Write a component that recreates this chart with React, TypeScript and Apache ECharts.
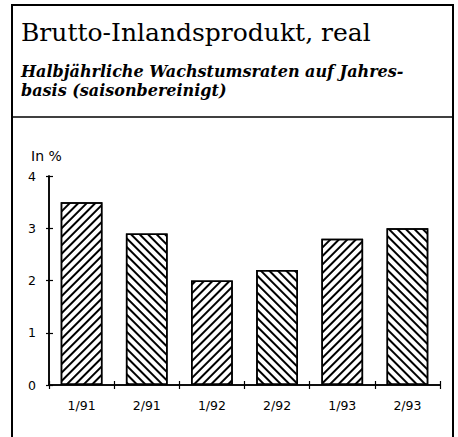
import React, { useEffect, useRef } from "react";
import * as echarts from "echarts";

const categories = ["1/91", "2/91", "1/92", "2/92", "1/93", "2/93"];
const values = [3.5, 2.9, 2.0, 2.2, 2.8, 3.0];
const yTicks = { min: 0, max: 4, interval: 1 };
const title = "Brutto-Inlandsprodukt, real";
const subtitleLines = ["Halbjährliche Wachstumsraten auf Jahres-", "basis (saisonbereinigt)"];
const unitLabel = "In %";

export default function App() {
  const ref = useRef<HTMLDivElement>(null);
  useEffect(() => {
    if (!ref.current) return;
    const chart = echarts.init(ref.current, null, { renderer: "svg" });
    const hatch = (i: number) => ({
      symbol: "rect",
      symbolSize: 1,
      dashArrayX: [1, 0],
      dashArrayY: [1.3, 3.2],
      rotation: i % 2 === 0 ? -Math.PI / 4 : Math.PI / 4,
      color: "#000",
      backgroundColor: "#fff",
    });
    const axisLine = { show: true, lineStyle: { color: "#000", width: 1.5 } };
    chart.setOption({
      animation: false,
      backgroundColor: "#fff",
      grid: { left: 49, right: 18, top: 176, bottom: 52 },
      xAxis: [
        {
          type: "category",
          data: categories,
          position: "bottom",
          axisLine,
          axisTick: { show: true, length: 4, lineStyle: { color: "#000", width: 1.2 } },
          axisLabel: { color: "#000", fontSize: 12.5, margin: 14, fontFamily: "DejaVu Sans" },
        },
        {
          type: "category",
          data: categories,
          position: "bottom",
          axisLine,
          axisTick: { show: true, inside: true, length: 4, lineStyle: { color: "#000", width: 1.2 } },
          axisLabel: { show: false },
        },
      ],
      yAxis: [
        {
          type: "value",
          ...yTicks,
          axisLine,
          splitLine: { show: false },
          axisTick: { show: true, length: 3, lineStyle: { color: "#000", width: 1.2 } },
          axisLabel: { color: "#000", fontSize: 12.5, margin: 13, fontFamily: "DejaVu Sans" },
        },
        {
          type: "value",
          ...yTicks,
          position: "left",
          axisLine,
          splitLine: { show: false },
          axisTick: { show: true, inside: true, length: 4, lineStyle: { color: "#000", width: 1.2 } },
          axisLabel: { show: false },
        },
      ],
      series: [
        {
          type: "bar",
          xAxisIndex: 0,
          yAxisIndex: 0,
          barWidth: "64%",
          data: values.map((v, i) => ({
            value: v,
            itemStyle: { color: "#fff", borderColor: "#000", borderWidth: 1.5, decal: hatch(i) },
          })),
        },
      ],
      graphic: [
        {
          type: "rect",
          shape: { x: 12, y: 5, width: 441, height: 440 },
          style: { fill: "none", stroke: "#000", lineWidth: 2 },
          silent: true,
        },
        {
          type: "line",
          shape: { x1: 12, y1: 117, x2: 453, y2: 117 },
          style: { stroke: "#000", lineWidth: 1.5 },
          silent: true,
        },
        {
          type: "text",
          x: 21,
          y: 32,
          style: { text: title, font: '25px "DejaVu Serif"', fill: "#000", verticalAlign: "middle" },
        },
        {
          type: "text",
          x: 21,
          y: 71,
          style: {
            text: subtitleLines[0],
            font: 'italic bold 16px "DejaVu Serif"',
            fill: "#000",
            verticalAlign: "middle",
          },
        },
        {
          type: "text",
          x: 21,
          y: 90,
          style: {
            text: subtitleLines[1],
            font: 'italic bold 16px "DejaVu Serif"',
            fill: "#000",
            verticalAlign: "middle",
          },
        },
        {
          type: "text",
          x: 31,
          y: 156,
          style: { text: unitLabel, font: '14px "DejaVu Sans"', fill: "#000", verticalAlign: "middle" },
        },
      ],
    });
    return () => chart.dispose();
  }, []);
  return (
    <div
      ref={ref}
      style={{ position: "fixed", left: 0, top: 0, width: 458, height: 437 }}
    />
  );
}
